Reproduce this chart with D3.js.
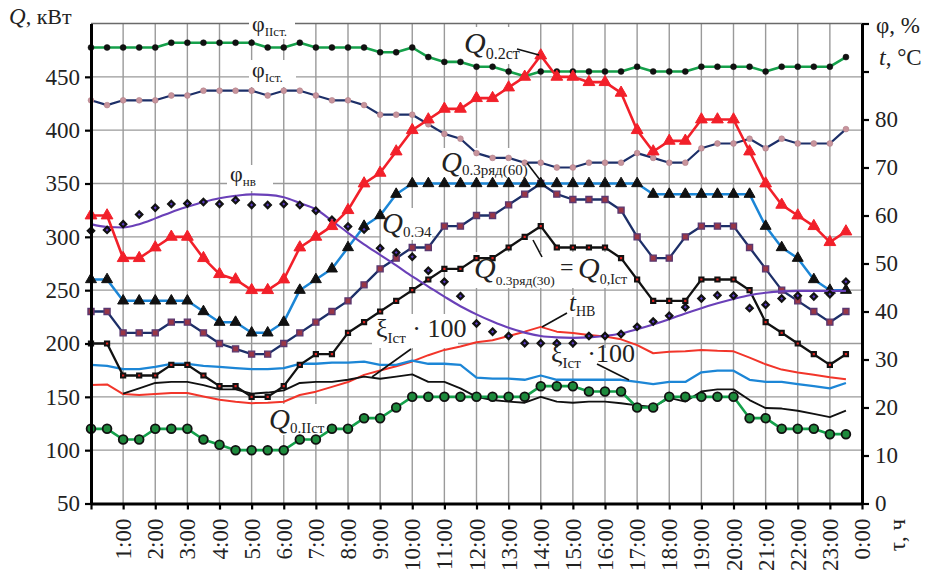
<!DOCTYPE html>
<html><head><meta charset="utf-8">
<script src="https://cdn.jsdelivr.net/npm/d3@7"></script>
<style>
body{margin:0;background:#fff}
svg{display:block}
text{font-family:"Liberation Serif","Times New Roman",serif;fill:#222}
</style>
</head><body>
<svg id="c" width="929" height="570"></svg>
<script>
// ---------- data ----------
const hours = [0,0.5,1,1.5,2,2.5,3,3.5,4,4.5,5,5.5,6,6.5,7,7.5,8,8.5,9,9.5,10,10.5,11,11.5,12,12.5,13,13.5,14,14.5,15,15.5,16,16.5,17,17.5,18,18.5,19,19.5,20,20.5,21,21.5,22,22.5,23,23.5];

// left axis, Q, kW
const Q02st   = [320,320,280,280,290,300,300,280,265,260, 250,250,260,290,300,310,325,350,360,380, 400,410,420,420,430,430,440,450,470,450, 450,445,445,435,400,380,390,390,410,410, 410,380,350,330,320,310,295,305];
const Q0E4    = [260,260,240,240,240,240,240,230,220,220, 210,210,220,250,260,270,290,310,320,340, 350,350,350,350,350,350,350,350,350,350, 350,350,350,350,350,340,340,340,340,340, 340,340,310,290,280,260,250,250];
const Q03r60  = [230,230,210,210,210,220,220,210,200,195, 190,190,200,210,220,230,240,255,270,280, 290,290,310,310,320,320,330,340,350,340, 335,335,335,325,300,280,280,300,310,310, 310,290,270,250,240,230,220,230];
const Q0I     = [200,200,170,170,170,180,180,170,160,160, 150,150,160,180,190,190,210,220,230,240, 250,260,270,270,280,280,290,300,310,290, 290,290,290,280,260,240,240,240,260,260, 260,250,220,210,200,190,180,190];
const Q0II    = [120,120,110,110,120,120,120,110,105,100, 100,100,100,110,110,120,120,130,130,140, 150,150,150,150,150,150,150,150,160,160, 160,155,155,155,140,140,150,150,150,150, 150,130,130,120,120,120,115,115];
const xiBlue  = [180,179,176,176,178,181,181,179,178,177, 176,176,177,181,181,182,182,183,180,180, 184,181,181,180,168,167,167,166,170,166, 166,166,166,166,164,162,164,164,173,174.5, 174.5,166,164,164,162,160,158,163];
const xiBlack = [null,null,153,158,163,164,164,161,157,157, 153,154,156,163,164,164,166,169,167,169, 171,164,164,158,150,147,145.5,144.5,150,145.5, 144.5,145.5,145.5,144,142,140.5,149,145.5,155,157, 157,147,139.5,139,137,134,131,137];

// right axis, %, °C
const phiII   = [95,95,95,95,95,96,96,96,96,96, 96,95,95,96,95,95,95,95,94,94, 95,93,92,92,91,91,90,89,90,90, 90,90,90,90,91,90,90,90,91,91, 91,91,90,91,91,91,91,93];
const phiI    = [84,83,84,84,84,85,85,86,86,86, 86,85,86,86,85,84,84,83,81,81, 81,79,77,76,73,72,72,71,71,70, 70,71,71,71,73,72,71,71,74,75, 75,76,74,76,75,75,75,78];
const phiNV   = [58.2,57.6,57.5,58.2,59.4,60.7,61.8,62.8,63.6,64.1, 64.4,64.3,63.8,62.6,61.3,58.9,56.4,54,51.8,49.6, 47.3,45.2,43.1,41.1,39.4,37.9,36.6,35.6,34.9,34.6, 34.5,34.6,34.9,35.4,36.3,37.3,38.4,39.6,40.7,41.7, 42.6,43.4,43.9,44.2,44.3,44.3,44.3,44.3];
const phiMeas = [56.8,57,58.2,60.2,61.6,62.4,62.5,62.8,62.4,63.2, 62.2,62.2,62.4,62.2,61,59.1,57.7,57.1,53.2,52.3, 51.4,48.5,46.2,43.2,37.5,35.8,34.9,33.4,33.4,33.4, 33.4,34.9,34.9,35.3,36.8,37.9,39.1,40.9,42.7,43.4, 43.3,40.7,41.4,42.7,43.3,43.1,43.6,46.2];
const tNV     = [24.7,24.8,22.8,22.6,22.8,23,23,22.3,21.6,21.2, 20.9,21,21.2,22.6,23.3,24.3,25.3,26.8,27.7,28.6, 29.6,30.9,32,32.7,33.6,34,34.9,35.8,36.8,35.8, 35.5,35.1,34.8,34.2,33,31.3,31.6,31.7,32,31.8, 31.7,30.4,29,27.9,27.3,26.8,26.3,25.9];

// ticks
const leftTicks  = [50,100,150,200,250,300,350,400,450];
const gridQ      = [100,150,200,250,300,350,400,450];
const rightTicks = [0,10,20,30,40,50,60,70,80,90,100];
const hourTicks  = [0,1,2,3,4,5,6,7,8,9,10,11,12,13,14,15,16,17,18,19,20,21,22,23,24];
const hourLabels = ["","1:00","2:00","3:00","4:00","5:00","6:00","7:00","8:00","9:00","10:00","11:00","12:00","13:00","14:00","15:00","16:00","17:00","18:00","19:00","20:00","21:00","22:00","23:00","0:00"];

// ---------- chart ----------
const svg = d3.select("#c");
const L=91, R=862, T=23.5, B=503.5;
const x  = d3.scaleLinear().domain([0,24]).range([L,R]);
const yL = d3.scaleLinear().domain([50,500]).range([B,T]);
const yR = d3.scaleLinear().domain([0,100]).range([B,T]);

// grid
const grid = svg.append("g").attr("stroke","#9a9a9a").attr("stroke-width",1.4);
grid.selectAll("line.h").data(gridQ).join("line")
  .attr("x1",L).attr("x2",R).attr("y1",d=>yL(d)).attr("y2",d=>yL(d));
grid.selectAll("line.v").data(hourTicks.slice(1,24)).join("line")
  .attr("x1",d=>x(d)).attr("x2",d=>x(d)).attr("y1",T).attr("y2",B);
svg.append("line").attr("x1",L).attr("x2",R).attr("y1",yL(500)).attr("y2",yL(500))
  .attr("stroke","#6a6a6a").attr("stroke-width",1.6);

// white label backgrounds (hide grid)
const bgs = [[249,12,46,27],[249,60,47,27],[227,165,46,26],[462,27,58,37],[440,148,85,31],
             [381,208,51,32],[473,252,156,36],[567,295,32,22],[372,314,86,34],[550,348,84,22],[268,404,79,31]];
svg.append("g").selectAll("rect").data(bgs).join("rect")
  .attr("x",d=>d[0]).attr("y",d=>d[1]).attr("width",d=>d[2]).attr("height",d=>d[3]).attr("fill","#fff");

// helpers
function drawLine(vals, scale, color, w, curve){
  const ln = d3.line().defined(d=>d!=null).x((d,i)=>x(hours[i])).y(d=>scale(d));
  if(curve) ln.curve(curve);
  svg.append("path").datum(vals).attr("d",ln).attr("fill","none")
    .attr("stroke",color).attr("stroke-width",w).attr("stroke-linejoin","round");
}
function drawMarks(vals, scale, sym, size, fill, stroke, sw){
  svg.append("g").selectAll("path").data(vals.map((v,i)=>[hours[i],v]).filter(d=>d[1]!=null)).join("path")
    .attr("d", d3.symbol().type(sym).size(size)())
    .attr("transform",d=>`translate(${x(d[0])},${scale(d[1])})`)
    .attr("fill",fill).attr("stroke",stroke).attr("stroke-width",sw);
}
const diamond = {draw(ctx,size){const r=Math.sqrt(size/2);ctx.moveTo(0,-r);ctx.lineTo(r,0);ctx.lineTo(0,r);ctx.lineTo(-r,0);ctx.closePath();}};

// series
drawLine(phiII, yR, "#15a04a", 2.6);
drawMarks(phiII, yR, d3.symbolCircle, 28, "#111", "#111", 0.5);
drawLine(phiI, yR, "#1d2f68", 2.2);
drawMarks(phiI, yR, d3.symbolCircle, 26, "#c8949c", "#b08088", 0.6);

drawLine(tNV, yR, "#f2352a", 2);
drawLine(xiBlue, yL, "#1c86d6", 2.3);
drawLine(xiBlack, yL, "#111", 1.9);

drawLine(Q0II, yL, "#14a04a", 2.6);
drawMarks(Q0II, yL, d3.symbolCircle, 60, "#1d8a3c", "#111", 1.8);

drawLine(Q0I, yL, "#111", 2.3);
drawMarks(Q0I, yL, d3.symbolSquare, 18, "#d8221e", "#111", 2);

drawLine(Q03r60, yL, "#1d2f68", 2.3);
drawMarks(Q03r60, yL, d3.symbolSquare, 36, "#9a3646", "#5a3870", 1.4);

drawLine(Q0E4, yL, "#1c86d6", 2.5);
drawMarks(Q0E4, yL, d3.symbolTriangle, 52, "#111", "#111", 1);

drawLine(phiNV, yR, "#6a40b8", 2.1, d3.curveMonotoneX);
drawMarks(phiMeas, yR, diamond, 30, "#111", "#111", 1.2);
drawMarks(phiMeas, yR, diamond, 5, "#5a3cc0", "none", 0);

drawLine(Q02st, yL, "#f2202a", 2.6);
drawMarks(Q02st, yL, d3.symbolTriangle, 60, "#f2202a", "#f2202a", 1);

// axes
function styleAxis(sel){
  sel.select(".domain").attr("stroke","#000").attr("stroke-width",3);
  sel.selectAll(".tick line").attr("stroke","#000").attr("stroke-width",2.2);
  sel.selectAll(".tick text").attr("font-size",23).attr("fill","#222")
    .attr("font-family","Liberation Serif, Times New Roman, serif");
}
svg.append("g").attr("transform",`translate(${L},0)`)
  .call(d3.axisLeft(yL).tickValues(leftTicks).tickSize(6).tickSizeOuter(0).tickPadding(5))
  .call(styleAxis);
svg.append("g").attr("transform",`translate(${R},0)`)
  .call(d3.axisRight(yR).tickValues(rightTicks).tickSize(7).tickSizeOuter(0).tickPadding(6)
        .tickFormat(d=>d<=80?d:""))
  .call(styleAxis);
const bx = svg.append("g").attr("transform",`translate(0,${B})`)
  .call(d3.axisBottom(x).tickValues(hourTicks).tickSize(6).tickSizeOuter(0)
        .tickFormat((d,i)=>hourLabels[i]))
  .call(styleAxis);
bx.selectAll(".tick text").attr("transform","rotate(-90)").attr("text-anchor","end")
  .attr("x",-15).attr("y",0).attr("dy","0.33em");

// rich text helper
function rich(px, py, parts, anchor){
  const t = svg.append("text").attr("x",px).attr("y",py);
  if(anchor) t.attr("text-anchor",anchor);
  parts.forEach(p=>{
    const s = t.append("tspan").attr("font-size",p.s).text(p.t);
    if(p.i) s.attr("font-style","italic");
    if(p.dy) s.attr("dy",p.dy);
  });
  return t;
}

// axis titles
rich(9, 24, [{t:"Q",s:23,i:1},{t:", кВт",s:22}]);
rich(876, 33, [{t:"φ, %",s:23}]);
rich(879, 65, [{t:"t",s:24,i:1},{t:", °C",s:23}]);
svg.append("text").attr("transform","translate(897,519) rotate(-90)")
  .attr("text-anchor","end").attr("dy","0.33em").attr("font-size",23).text("τ, ч");

// series labels
rich(252, 31, [{t:"φ",s:22},{t:"IIст.",s:13,dy:5}]);
rich(252, 77, [{t:"φ",s:22},{t:"Iст.",s:13,dy:5}]);
rich(230, 181, [{t:"φ",s:22},{t:"нв",s:13,dy:5}]);
rich(464, 53, [{t:"Q",s:30,i:1},{t:"0.2ст",s:16,dy:6}]);
rich(441, 172, [{t:"Q",s:29,i:1},{t:"0.3ряд(60)",s:15,dy:3}]);
rich(382, 233, [{t:"Q",s:29,i:1},{t:"0.Э4",s:15,dy:4}]);
rich(474, 278, [{t:"Q",s:30,i:1},{t:"0.3ряд(30)",s:13.5,dy:7}]);
rich(560, 275, [{t:"=",s:24}]);
rich(578, 278, [{t:"Q",s:30,i:1},{t:"0,Iст",s:14,dy:6}]);
rich(569, 311, [{t:"t",s:25,i:1},{t:"НВ",s:14,dy:5}]);
rich(376, 337, [{t:"ξ",s:26},{t:"Iст",s:15,dy:6},{t:" · 100",s:26,dy:-6}]);
rich(551, 362, [{t:"ξ",s:26},{t:"Iст",s:15,dy:6},{t:" ·100",s:26,dy:-6}]);
rich(269, 429, [{t:"Q",s:29,i:1},{t:"0.IIст",s:15,dy:4}]);

// leader lines
const leaders = [[517,49,539,55],[527,163,540,180],[533,240,542,257],[567,313,542,327],[411,349,372,377],[597,364,629,380]];
svg.append("g").selectAll("line").data(leaders).join("line")
  .attr("x1",d=>d[0]).attr("y1",d=>d[1]).attr("x2",d=>d[2]).attr("y2",d=>d[3])
  .attr("stroke","#111").attr("stroke-width",1.6);
</script>
</body></html>
